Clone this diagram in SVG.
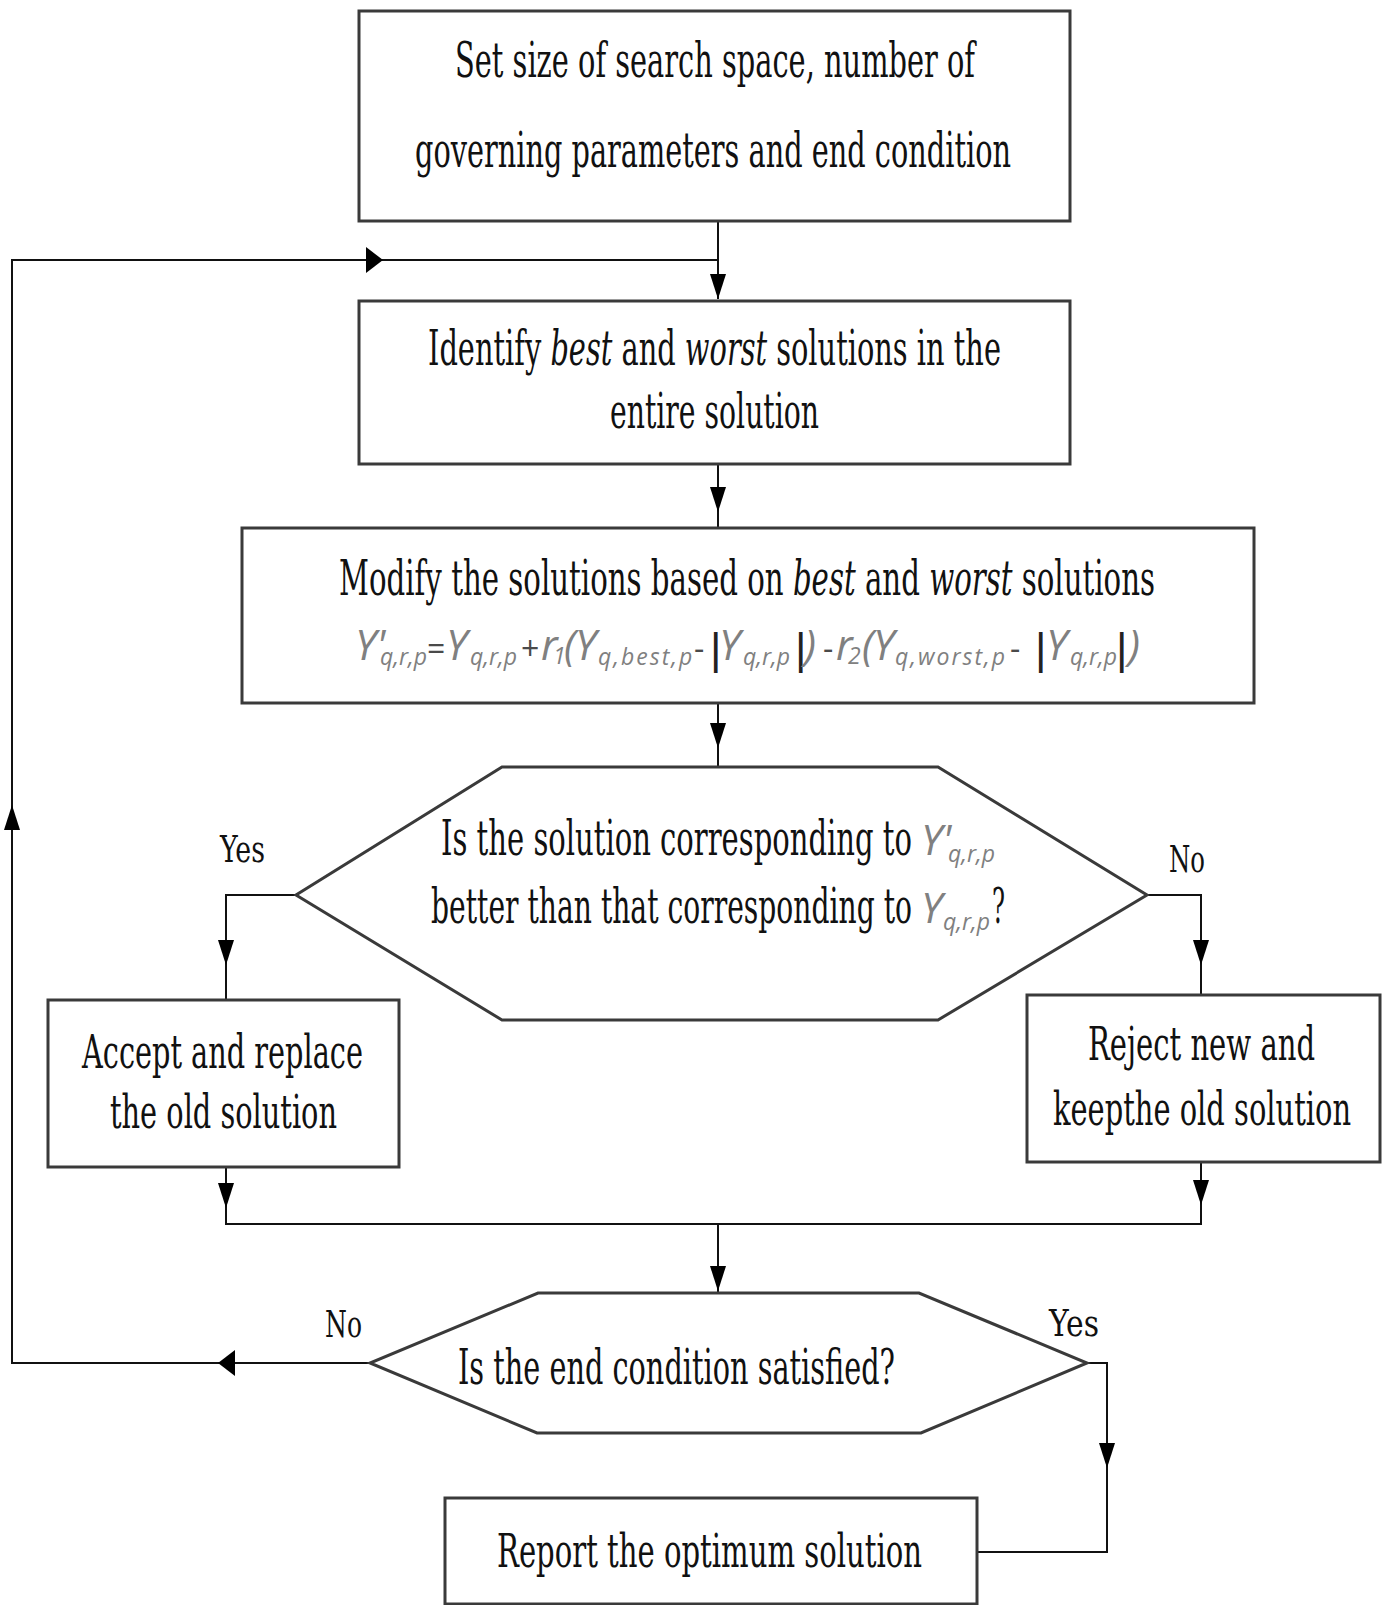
<svg xmlns="http://www.w3.org/2000/svg" width="1388" height="1605" viewBox="0 0 1388 1605">
<style>
.box{fill:#fff;stroke:#3a3a3a;stroke-width:3}
.c{fill:none;stroke:#111;stroke-width:2}
.t{font-family:"DejaVu Serif","Liberation Serif",serif;fill:#111}
.lbl{font-family:"DejaVu Serif","Liberation Serif",serif;fill:#111;font-size:38px}
.f{font-family:"Open Sans","Liberation Sans",sans-serif;font-style:italic;fill:#808080}
.fm{font-size:42px}
.fs{font-size:23px}
.fw{letter-spacing:2px}
.fo{font-size:32px;font-style:normal;fill:#4a4a4a}
.bar{font-family:"Liberation Sans",sans-serif;font-style:normal;fill:#222;font-size:44px}
.ah{fill:#000}
</style>
<defs>
<path id="ahd" d="M0,0 L-8,-25 L8,-25 Z"/>
<path id="ahu" d="M0,0 L-8,25 L8,25 Z"/>
<path id="ahr" d="M0,0 L-17,-13 L-17,13 Z"/>
<path id="ahl" d="M0,0 L17,-13 L17,13 Z"/>
</defs>
<rect width="1388" height="1605" fill="#fff"/>

<g id="connectors">
<path class="c" d="M718,221 V299"/>
<path class="c" d="M370,1363 H12 V260 H718"/>
<path class="c" d="M718,464 V528"/>
<path class="c" d="M718,703 V767"/>
<path class="c" d="M296,895 H226 V1000"/>
<path class="c" d="M1147,895 H1201 V995"/>
<path class="c" d="M226,1167 V1224 H1201 V1162"/>
<path class="c" d="M718,1224 V1293"/>
<path class="c" d="M1087,1363 H1107 V1552 H977"/>
<g class="ah">
<use href="#ahd" x="718" y="299"/>
<use href="#ahd" x="718" y="512"/>
<use href="#ahd" x="718" y="748"/>
<use href="#ahd" x="226" y="965"/>
<use href="#ahd" x="1201" y="965"/>
<use href="#ahd" x="226" y="1208"/>
<use href="#ahd" x="1201" y="1205"/>
<use href="#ahd" x="718" y="1291"/>
<use href="#ahd" x="1107" y="1468"/>
<use href="#ahl" x="218" y="1363"/>
<use href="#ahu" x="12" y="805"/>
<use href="#ahr" x="383" y="260"/>
</g>
<text class="lbl" transform="translate(220 862) scale(.625 1)" textLength="72" lengthAdjust="spacingAndGlyphs">Yes</text>
<text class="lbl" transform="translate(1169 872) scale(.625 1)" textLength="57.6" lengthAdjust="spacingAndGlyphs">No</text>
<text class="lbl" transform="translate(325 1337) scale(.625 1)" textLength="59.2" lengthAdjust="spacingAndGlyphs">No</text>
<text class="lbl" transform="translate(1049 1336) scale(.625 1)" textLength="80" lengthAdjust="spacingAndGlyphs">Yes</text>
</g>

<g id="n-setup">
<rect class="box" x="359" y="11" width="711" height="210"/>
<text class="t" font-size="48" transform="translate(455 77) scale(.625 1)" textLength="832" lengthAdjust="spacingAndGlyphs">Set size of search space, number of</text>
<text class="t" font-size="48" transform="translate(415 167) scale(.625 1)" textLength="953.6" lengthAdjust="spacingAndGlyphs">governing parameters and end condition</text>
</g>

<g id="n-identify">
<rect class="box" x="359" y="301" width="711" height="163"/>
<text class="t" font-size="49" transform="translate(428 365) scale(.625 1)" textLength="916.8" lengthAdjust="spacingAndGlyphs">Identify <tspan font-style="italic">best</tspan> and <tspan font-style="italic">worst</tspan> solutions in the</text>
<text class="t" font-size="49" transform="translate(610 428) scale(.625 1)" textLength="334.4" lengthAdjust="spacingAndGlyphs">entire solution</text>
</g>

<g id="n-modify">
<rect class="box" x="242" y="528" width="1012" height="175"/>
<text class="t" font-size="48" transform="translate(339 595) scale(.625 1)" textLength="1305.6" lengthAdjust="spacingAndGlyphs">Modify the solutions based on <tspan font-style="italic">best</tspan> and <tspan font-style="italic">worst</tspan> solutions</text>
<text class="f" y="660"><tspan class="fm" x="355" y="660">Y'</tspan><tspan class="fs" x="380" y="665">q,r,p</tspan><tspan class="fo" x="427" y="660">=</tspan><tspan class="fm" x="446" y="660">Y</tspan><tspan class="fs" x="470" y="665">q,r,p</tspan><tspan class="fo" x="521" y="660" fill="#808080">+</tspan><tspan class="fm" x="541" y="660">r</tspan><tspan class="fs" x="553" y="664">1</tspan><tspan class="fm" x="564" y="660">(</tspan><tspan class="fm" x="575" y="660">Y</tspan><tspan class="fs fw" x="598" y="665">q,best,p</tspan><tspan class="fo" x="694" y="660">-</tspan><tspan class="bar" x="710" y="664">|</tspan><tspan class="fm" x="719" y="660">Y</tspan><tspan class="fs" x="743" y="665">q,r,p</tspan><tspan class="bar" x="795" y="664">|</tspan><tspan class="fm" x="804" y="660">)</tspan><tspan class="fo" x="823" y="660">-</tspan><tspan class="fm" x="836" y="660">r</tspan><tspan class="fs" x="848" y="664" font-size="28">2</tspan><tspan class="fm" x="862" y="660">(</tspan><tspan class="fm" x="873" y="660">Y</tspan><tspan class="fs fw" x="895" y="665">q,worst,p</tspan><tspan class="fo" x="1010" y="660">-</tspan><tspan class="bar" x="1035" y="664">|</tspan><tspan class="fm" x="1046" y="660">Y</tspan><tspan class="fs" x="1070" y="665">q,r,p</tspan><tspan class="bar" x="1116" y="664">|</tspan><tspan class="fm" x="1128" y="660">)</tspan></text>
</g>

<g id="n-compare">
<polygon class="box" points="502,767 938,767 1147,895 938,1020 502,1020 296,895"/>
<text class="t" font-size="48" transform="translate(441 855) scale(.625 1)" textLength="753.6" lengthAdjust="spacingAndGlyphs">Is the solution corresponding to</text>
<text class="f"><tspan class="fm" x="921" y="855">Y'</tspan><tspan class="fs" x="948" y="862">q,r,p</tspan></text>
<text class="t" font-size="48" transform="translate(431 923) scale(.625 1)" textLength="769.6" lengthAdjust="spacingAndGlyphs">better than that corresponding to</text>
<text class="f"><tspan class="fm" x="921" y="923">Y</tspan><tspan class="fs" x="943" y="930">q,r,p</tspan></text>
<text class="t" font-size="48" transform="translate(992 923) scale(.625 1)" textLength="20.8" lengthAdjust="spacingAndGlyphs">?</text>
</g>

<g id="n-accept">
<rect class="box" x="48" y="1000" width="351" height="167"/>
<text class="t" font-size="46" transform="translate(82 1068) scale(.625 1)" textLength="449.6" lengthAdjust="spacingAndGlyphs">Accept and replace</text>
<text class="t" font-size="46" transform="translate(110 1128) scale(.625 1)" textLength="363.2" lengthAdjust="spacingAndGlyphs">the old solution</text>
</g>

<g id="n-reject">
<rect class="box" x="1027" y="995" width="353" height="167"/>
<text class="t" font-size="46" transform="translate(1088 1060) scale(.625 1)" textLength="363.2" lengthAdjust="spacingAndGlyphs">Reject new and</text>
<text class="t" font-size="46" transform="translate(1053 1125) scale(.625 1)" textLength="476.8" lengthAdjust="spacingAndGlyphs">keepthe old solution</text>
</g>

<g id="n-end">
<polygon class="box" points="538,1293 919,1293 1087,1363 921,1433 537,1433 370,1363"/>
<text class="t" font-size="48" transform="translate(458 1384) scale(.625 1)" textLength="699.2" lengthAdjust="spacingAndGlyphs">Is the end condition satisfied?</text>
</g>

<g id="n-report">
<rect class="box" x="445" y="1498" width="532" height="106"/>
<text class="t" font-size="46" transform="translate(497 1567) scale(.625 1)" textLength="680" lengthAdjust="spacingAndGlyphs">Report the optimum solution</text>
</g>
</svg>
